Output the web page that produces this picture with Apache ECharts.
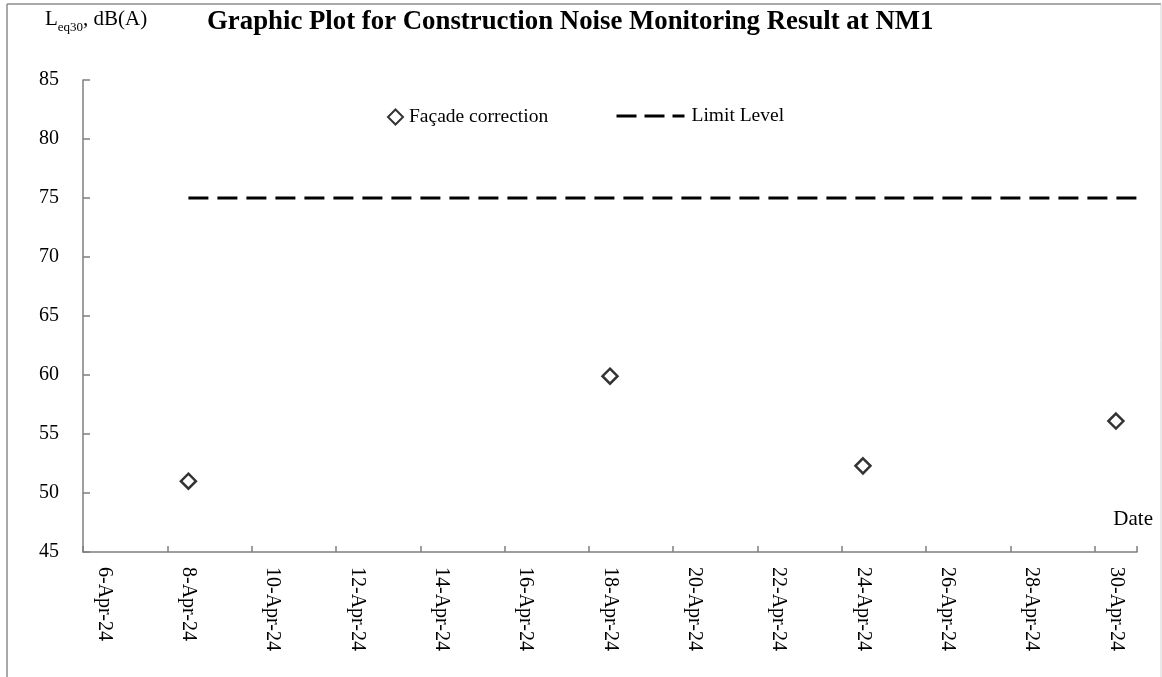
<!DOCTYPE html>
<html>
<head>
<meta charset="utf-8">
<title>Construction Noise Monitoring Result at NM1</title>
<script src="https://cdn.jsdelivr.net/npm/echarts@6/dist/echarts.min.js"></script>
<style>
  html, body { margin: 0; padding: 0; background: #fff; }
  #chart { width: 1162px; height: 677px; }
</style>
</head>
<body>
<div id="chart"></div>
<script>
// Daily categories on the date axis (6 Apr to 30 Apr 2024)
const dates = [
  '6-Apr-24', '7-Apr-24', '8-Apr-24', '9-Apr-24', '10-Apr-24', '11-Apr-24',
  '12-Apr-24', '13-Apr-24', '14-Apr-24', '15-Apr-24', '16-Apr-24', '17-Apr-24',
  '18-Apr-24', '19-Apr-24', '20-Apr-24', '21-Apr-24', '22-Apr-24', '23-Apr-24',
  '24-Apr-24', '25-Apr-24', '26-Apr-24', '27-Apr-24', '28-Apr-24', '29-Apr-24',
  '30-Apr-24'
];

// Measured Leq30 with façade correction, dB(A)
const measureDates = ['8-Apr-24', '18-Apr-24', '24-Apr-24', '30-Apr-24'];
const facadeValues = [51.0, 59.9, 52.3, 56.1];

// Limit level, dB(A), applied from the first monitoring day
const limitLevel = 75;
const limitFrom = '8-Apr-24';

// Y axis range
const yMin = 45, yMax = 85, yStep = 5;

const serif = '"Liberation Serif", "Times New Roman", serif';
const axisGrey = '#7f7f7f';

const chart = echarts.init(document.getElementById('chart'), null, { renderer: 'canvas' });

// Position of the date categories on a continuous index scale (band centres at 0..n-1)
const limitStartIdx = dates.indexOf(limitFrom);
const axisEndIdx = dates.length - 0.5;

chart.setOption({
  animation: false,
  backgroundColor: '#ffffff',
  title: {
    text: 'Graphic Plot for Construction Noise Monitoring Result at NM1',
    left: 202,
    top: 4,
    textStyle: { fontFamily: serif, fontSize: 26.8, fontWeight: 'bold', color: '#000' }
  },
  legend: [
    {
      data: ['Façade correction'],
      left: 387,
      top: 107,
      padding: 0,
      itemWidth: 15,
      itemHeight: 15,
      textStyle: { fontFamily: serif, fontSize: 19.5, color: '#000', padding: [0, 0, 0, 1] }
    },
    {
      data: ['Limit Level'],
      left: 615,
      top: 106,
      padding: 0,
      itemWidth: 68,
      itemHeight: 14,
      itemStyle: { opacity: 0 },
      lineStyle: { color: '#000', width: 3, type: [20, 8] },
      textStyle: { fontFamily: serif, fontSize: 19.5, color: '#000', padding: [0, 0, 0, 2] }
    }
  ],
  grid: { left: 83, right: 25, top: 80, bottom: 125, containLabel: false },
  xAxis: [
    {
      type: 'category',
      data: dates,
      boundaryGap: true,
      name: 'Date',
      nameLocation: 'end',
      nameGap: 0,
      nameTextStyle: {
        fontFamily: serif, fontSize: 21, color: '#000',
        align: 'right', verticalAlign: 'bottom', padding: [0, -16, 22, 0]
      },
      axisLine: { show: true, onZero: false, lineStyle: { color: axisGrey, width: 1.5 } },
      axisTick: {
        show: true, inside: true, length: 6, alignWithLabel: false,
        // every second day boundary
        interval: (idx) => idx % 2 === 0 && idx < dates.length,
        lineStyle: { color: axisGrey, width: 1.5 }
      },
      axisLabel: { interval: 1, rotate: -90, margin: 15,
                   fontFamily: serif, fontSize: 20, color: '#000' },
      splitLine: { show: false }
    },
    {
      type: 'value',
      min: -0.5,
      max: axisEndIdx,
      show: false
    }
  ],
  yAxis: {
    type: 'value',
    min: yMin,
    max: yMax,
    interval: yStep,
    name: '{m|L}{s|eq30}{m|, dB(A)}',
    nameLocation: 'end',
    nameGap: 0,
    nameTextStyle: {
      align: 'left',
      padding: [0, 0, 50, -38],
      rich: {
        m: { fontFamily: serif, fontSize: 21, color: '#000', verticalAlign: 'bottom' },
        s: { fontFamily: serif, fontSize: 13, color: '#000', verticalAlign: 'bottom', padding: [0, 0, -4, 0] }
      }
    },
    axisLine: { show: true, onZero: false, lineStyle: { color: axisGrey, width: 1.5 } },
    axisTick: { show: true, inside: true, length: 7, lineStyle: { color: axisGrey, width: 1.5 } },
    axisLabel: { margin: 24, fontFamily: serif, fontSize: 20, color: '#000' },
    splitLine: { show: false }
  },
  series: [
    {
      name: 'Façade correction',
      type: 'scatter',
      xAxisIndex: 0,
      symbol: 'diamond',
      symbolSize: 15,
      itemStyle: { color: '#ffffff', borderColor: '#000000', borderWidth: 2.5 },
      data: measureDates.map((d, i) => [d, facadeValues[i]]),
      z: 5
    },
    {
      name: 'Limit Level',
      type: 'line',
      xAxisIndex: 1,
      symbol: 'none',
      lineStyle: { color: '#000', width: 3, type: [20, 9] },
      itemStyle: { color: '#000' },
      data: [[limitStartIdx, limitLevel], [axisEndIdx, limitLevel]],
      z: 4
    }
  ],
  graphic: [
    // chart frame
    { type: 'line', shape: { x1: 7, y1: 4, x2: 7, y2: 677 }, style: { stroke: '#8c8c8c', lineWidth: 1.5 }, silent: true },
    { type: 'line', shape: { x1: 7, y1: 4, x2: 1161, y2: 4 }, style: { stroke: '#8c8c8c', lineWidth: 1.5 }, silent: true },
    { type: 'line', shape: { x1: 1161, y1: 4, x2: 1161, y2: 677 }, style: { stroke: '#d4d4d4', lineWidth: 1 }, silent: true }
  ]
});
</script>
</body>
</html>
